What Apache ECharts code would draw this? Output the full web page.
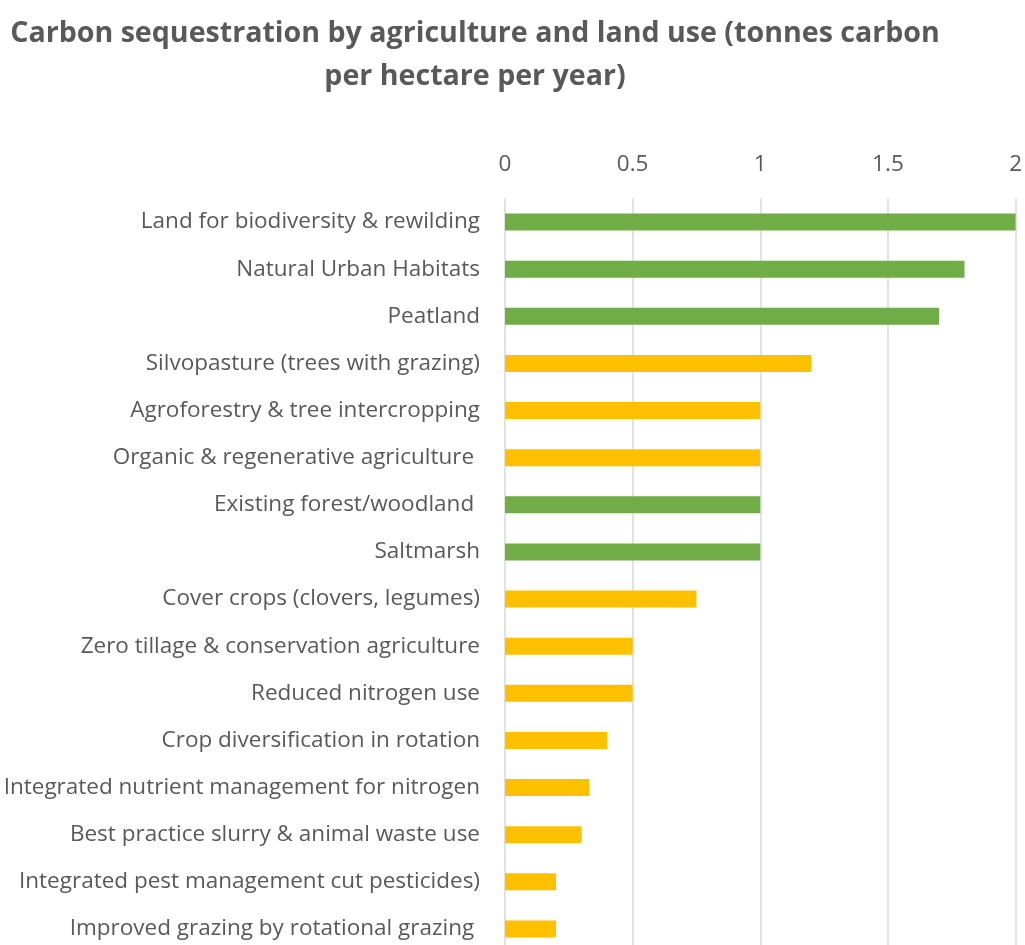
<!DOCTYPE html>
<html>
<head>
<meta charset="utf-8">
<script src="https://cdn.jsdelivr.net/npm/echarts@6/dist/echarts.min.js"></script>
<style>
html,body{margin:0;padding:0;background:#fff;overflow:hidden;}
#chart{width:1025px;height:960px;}
</style>
</head>
<body>
<div id="chart"></div>
<script>
const categories = [
  "Land for biodiversity & rewilding",
  "Natural Urban Habitats",
  "Peatland",
  "Silvopasture (trees with grazing)",
  "Agroforestry & tree intercropping",
  "Organic & regenerative agriculture ",
  "Existing forest/woodland ",
  "Saltmarsh",
  "Cover crops (clovers, legumes)",
  "Zero tillage & conservation agriculture",
  "Reduced nitrogen use",
  "Crop diversification in rotation",
  "Integrated nutrient management for nitrogen",
  "Best practice slurry & animal waste use",
  "Integrated pest management cut pesticides)",
  "Improved grazing by rotational grazing "
];
const values = [2.0, 1.8, 1.7, 1.2, 1.0, 1.0, 1.0, 1.0, 0.75, 0.5, 0.5, 0.4, 0.33, 0.3, 0.2, 0.2];
const kinds = ["natural","natural","natural","farming","farming","farming","natural","natural",
               "farming","farming","farming","farming","farming","farming","farming","farming"];
const xTicks = [0, 0.5, 1, 1.5, 2];
const titleText = "Carbon sequestration by agriculture and land use (tonnes carbon\nper hectare per year)";

const kindColors = { natural: "#70AD47", farming: "#FFC000" };
const font = "'Open Sans', sans-serif";

const chart = echarts.init(document.getElementById('chart'), null, { renderer: 'canvas' });
chart.setOption({
  animation: false,
  backgroundColor: '#ffffff',
  title: {
    text: titleText,
    left: 475,
    top: 12,
    padding: 0,
    textAlign: 'center',
    textStyle: {
      fontFamily: "'Open Sans', sans-serif",
      fontWeight: 'bold',
      fontSize: 28.6,
      lineHeight: 43,
      color: '#595959'
    }
  },
  grid: { left: 505, right: 8, top: 198.5, height: 754, containLabel: false },
  xAxis: {
    type: 'value',
    position: 'top',
    min: xTicks[0],
    max: xTicks[xTicks.length - 1],
    interval: xTicks[1] - xTicks[0],
    axisLine: { show: false },
    axisTick: { show: false },
    axisLabel: { margin: 22, fontFamily: font, fontSize: 22.5, color: '#595959' },
    splitLine: { show: true, lineStyle: { color: '#D9D9D9', width: 1.5 } }
  },
  yAxis: {
    type: 'category',
    data: categories,
    inverse: true,
    axisLine: { show: false },
    axisTick: { show: false },
    axisLabel: { margin: 25, fontFamily: font, fontSize: 22.5, color: '#595959' }
  },
  series: [{
    type: 'bar',
    data: values.map((v, i) => ({ value: v, itemStyle: { color: kindColors[kinds[i]] } })),
    barWidth: 17
  }]
});
</script>
</body>
</html>
